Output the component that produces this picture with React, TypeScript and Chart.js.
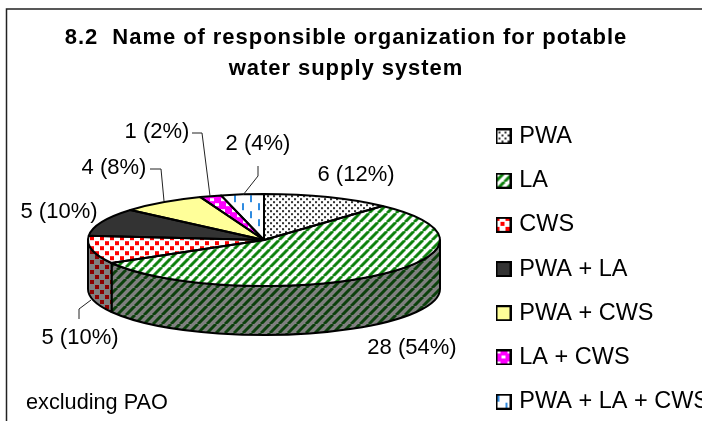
import React, { useEffect, useRef } from "react";
import { Chart, registerables } from "chart.js";

Chart.register(...registerables);

const titleLines = ["8.2  Name of responsible organization for potable", "water supply system"];
const categories = ["PWA", "LA", "CWS", "PWA + LA", "PWA + CWS", "LA + CWS", "PWA + LA + CWS"];
const sliceValues = [6, 28, 5, 5, 4, 1, 2];
const sliceLabels = ["6 (12%)", "28 (54%)", "5 (10%)", "5 (10%)", "4 (8%)", "1 (2%)", "2 (4%)"];
const footnote = "excluding PAO";

// Layout of the drawing (not data).
const CX = 264, CY = 240, RX = 176, RY = 46, DEPTH = 49;
const labelCenters = [[356, 175], [412, 348], [80, 338], [59, 212], [114, 168], [157, 132], [258, 144]];
const leaders = [
  null, null,
  [[79, 319], [79, 309], [91, 300]],
  null,
  [[150, 169], [161, 169], [164, 201]],
  [[192, 133], [202, 133], [210, 196]],
  [[258, 166], [258, 176], [243, 195]],
];

type Painter = (c: CanvasRenderingContext2D, s: number) => void;

function tile(size: number, bg: string, paint: Painter) {
  const cv = document.createElement("canvas");
  cv.width = size; cv.height = size;
  const c = cv.getContext("2d")!;
  c.fillStyle = bg; c.fillRect(0, 0, size, size);
  paint(c, size);
  return cv;
}
const dots = (col: string, w: number): Painter => (c, s) => {
  c.fillStyle = col;
  c.fillRect(0, 0, w, w);
  c.fillRect(s / 2, s / 2, w, w);
};
const stripes = (col: string, w: number): Painter => (c, s) => {
  c.strokeStyle = col; c.lineWidth = w;
  for (let i = -1; i <= 1; i++) {
    c.beginPath();
    c.moveTo(i * s, s); c.lineTo(i * s + s, 0);
    c.stroke();
  }
};
const dashes = (col: string): Painter => (c, s) => {
  c.fillStyle = col;
  c.fillRect(2, 1, 2, 7);
  c.fillRect(s / 2 + 2, s / 2 + 1, 2, 7);
};

const tiles = [
  () => tile(6, "#ffffff", dots("#333333", 2)),
  () => tile(9, "#ffffff", stripes("#0a800a", 3)),
  () => tile(10, "#ffffff", dots("#ff0000", 4)),
  () => tile(4, "#333333", () => {}),
  () => tile(4, "#ffff99", () => {}),
  () => tile(11, "#ff00ff", (c) => { c.fillStyle = "#ffffff"; c.fillRect(1, 1, 4, 3); c.fillRect(6, 6, 4, 3); }),
  () => tile(16, "#ffffff", dashes("#2f8be0")),
];
const wallTiles: Record<number, () => HTMLCanvasElement> = {
  1: () => tile(9, "#808080", stripes("#0c400c", 3)),
  2: () => tile(10, "#808080", dots("#8b0000", 4)),
};

function legendIcon(i: number) {
  const cv = document.createElement("canvas");
  cv.width = 16; cv.height = 16;
  const c = cv.getContext("2d")!;
  c.fillStyle = c.createPattern(tiles[i](), "repeat")!;
  c.fillRect(1, 1, 14, 14);
  c.strokeStyle = "#000"; c.lineWidth = 2;
  c.strokeRect(1, 1, 14, 14);
  return cv;
}

const piePlugin = {
  id: "pie3d",
  afterInit(chart: any) {
    const t = chart.titleBlock;
    const drawTitle = t.draw;
    t.draw = function () {
      chart.ctx.letterSpacing = "0.95px";
      drawTitle.call(t);
      chart.ctx.letterSpacing = "0px";
    };
  },
  afterLayout(chart: any) {
    chart.chartArea = { left: CX - RX, right: CX + RX, top: 30, bottom: 30 + 2 * RX, width: 2 * RX, height: 2 * RX };
    const t = chart.titleBlock;
    t.left = 0; t.right = 692; t.top = 22; t.bottom = 22 + t.height;
    const l = chart.legend;
    const h = l.height;
    l.left = 478.8; l.right = l.left + l.width; l.top = 104; l.bottom = l.top + h;
  },
  beforeDraw(chart: any) {
    const c = chart.ctx;
    c.save();
    c.fillStyle = "#fff"; c.fillRect(0, 0, chart.width, chart.height);
    c.strokeStyle = "#222"; c.lineWidth = 1.5;
    c.strokeRect(6.5, 9, 800, 600);
    c.restore();
  },
  beforeDatasetsDraw(chart: any) {
    const c = chart.ctx;
    const arcs = chart.getDatasetMeta(0).data;
    arcs.forEach((a: any, i: number) => {
      const from = Math.max(a.startAngle, 0), to = Math.min(a.endAngle, Math.PI);
      if (to <= from || !wallTiles[i]) return;
      c.save();
      c.beginPath();
      c.ellipse(CX, CY, RX, RY, 0, from, to);
      c.ellipse(CX, CY + DEPTH, RX, RY, 0, to, from, true);
      c.closePath();
      c.fillStyle = c.createPattern(wallTiles[i](), "repeat");
      c.fill();
      c.strokeStyle = "#000"; c.lineWidth = 2; c.lineJoin = "round";
      c.stroke();
      c.restore();
    });
    const cy0 = (chart.chartArea.top + chart.chartArea.bottom) / 2;
    c.save();
    c.translate(0, CY);
    c.scale(1, RY / RX);
    c.translate(0, -cy0);
  },
  afterDatasetsDraw(chart: any) {
    const c = chart.ctx;
    c.restore();
    const arcs = chart.getDatasetMeta(0).data;
    c.save();
    c.strokeStyle = "#000"; c.lineWidth = 2; c.lineJoin = "round";
    arcs.forEach((a: any) => {
      c.beginPath();
      c.moveTo(CX, CY);
      c.ellipse(CX, CY, RX, RY, 0, a.startAngle, a.endAngle);
      c.closePath();
      c.stroke();
    });
    c.strokeStyle = "#222"; c.lineWidth = 1;
    leaders.forEach((pts) => {
      if (!pts) return;
      c.beginPath();
      pts.forEach((p, k) => (k ? c.lineTo(p[0], p[1]) : c.moveTo(p[0], p[1])));
      c.stroke();
    });
    c.fillStyle = "#000";
    c.font = "22px 'Liberation Sans'";
    c.textAlign = "center"; c.textBaseline = "middle";
    sliceLabels.forEach((s, i) => c.fillText(s, labelCenters[i][0], labelCenters[i][1]));
    c.textAlign = "left";
    c.font = "21.7px 'Liberation Sans'";
    c.fillText(footnote, 26, 403);
    c.restore();
  },
};

export default function App() {
  const ref = useRef<HTMLCanvasElement>(null);
  useEffect(() => {
    document.body.style.margin = "0";
    const canvas = ref.current!;
    const ctx = canvas.getContext("2d")!;
    const sq = RX / RY;
    const patterns = tiles.map((make) => {
      const p = ctx.createPattern(make(), "repeat")!;
      p.setTransform(new DOMMatrix().scale(1, sq));
      return p;
    });
    const chart = new Chart(canvas, {
      type: "pie",
      data: {
        labels: categories,
        datasets: [{ data: sliceValues, backgroundColor: patterns, borderWidth: 0 }],
      },
      options: {
        responsive: false,
        animation: false,
        events: [],
        plugins: {
          tooltip: { enabled: false },
          title: {
            display: true,
            text: titleLines,
            color: "#000",
            font: { family: "'Liberation Sans'", size: 22, weight: "bold", lineHeight: 1.41 },
            padding: 0,
          },
          legend: {
            position: "right",
            align: "start",
            labels: {
              color: "#000",
              font: { family: "'Liberation Sans'", size: 23.5 },
              padding: 20.7,
              usePointStyle: true,
              pointStyleWidth: 8,
              generateLabels: () =>
                categories.map((text, i) => ({ text, pointStyle: legendIcon(i), fontColor: "#000", index: i, hidden: false, lineWidth: 0 })),
            },
          },
        },
      },
      plugins: [piePlugin],
    } as any);
    return () => chart.destroy();
  }, []);
  return <canvas ref={ref} width={702} height={421} style={{ display: "block" }} />;
}
